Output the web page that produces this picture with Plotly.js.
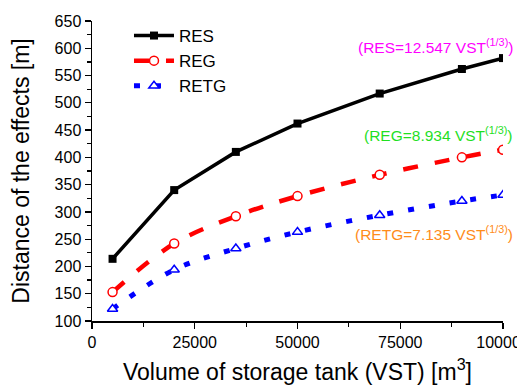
<!DOCTYPE html>
<html><head><meta charset="utf-8">
<script src="https://cdn.plot.ly/plotly-3.0.1.min.js"></script>
<style>html,body{margin:0;padding:0;background:#fff}#c{width:517px;height:385px}</style>
</head><body><div id="c"></div>
<script>
const vst = [5000, 20000, 35000, 50000, 70000, 90000, 100000];
const res = [214, 340, 410, 462, 517, 562, 582];
const reg = [153, 242, 292, 329, 368, 400, 414];
const retg = [122, 194, 233, 263, 294, 320, 331];
const xTicks = [0, 25000, 50000, 75000, 100000];
const xTickText = ['0', '25000', '50000', '75000', '100000'];

const font = 'Liberation Sans, Arial, sans-serif';
const traces = [
  {x: vst, y: res, name: 'RES', mode: 'lines+markers',
   line: {color: '#000', width: 3.5},
   marker: {symbol: 'square', size: 8, color: '#000'}},
  {x: vst, y: reg, name: 'REG', mode: 'lines+markers',
   line: {color: '#ff0000', width: 4.5, dash: '15px,17px', shape: 'spline'},
   marker: {symbol: 'circle', size: 9, color: '#fff', line: {width: 1.5, color: '#ff0000'}}},
  {x: vst, y: retg, name: 'RETG', mode: 'lines+markers',
   line: {color: '#0000ff', width: 5, dash: '6px,15px', shape: 'spline'},
   marker: {symbol: 'triangle-up', size: 9, color: '#fff', line: {width: 1.5, color: '#0000ff'}}}
];
const layout = {
  width: 517, height: 385,
  margin: {l: 92, r: 14, t: 21, b: 64},
  paper_bgcolor: '#fff', plot_bgcolor: '#fff',
  font: {family: font, color: '#000', size: 16},
  showlegend: true,
  legend: {x: 0.09, y: 1.01, xanchor: 'left', yanchor: 'top', bgcolor: 'rgba(0,0,0,0)',
           font: {size: 17}, itemwidth: 40, tracegroupgap: 0},
  xaxis: {range: [0, 100000], tickvals: xTicks, ticktext: xTickText, ticklabeloverflow: 'allow',
          showgrid: false, zeroline: false, showline: true, linecolor: '#000', linewidth: 1.5,
          ticks: 'outside', ticklen: 6, tickcolor: '#000', tickwidth: 1.2,
          minor: {dtick: 12500, ticks: 'outside', ticklen: 4, tickcolor: '#000'},
          tickfont: {size: 16},
          title: {text: 'Volume of storage tank (VST) [m<sup>3</sup>]', font: {size: 23}, standoff: 14}},
  yaxis: {range: [100, 650], dtick: 50, showgrid: false, zeroline: false, showline: true,
          linecolor: '#000', linewidth: 1.5, ticks: 'outside', ticklen: 6, tickcolor: '#000', tickwidth: 1.2,
          minor: {dtick: 25, ticks: 'outside', ticklen: 4, tickcolor: '#000'},
          tickfont: {size: 16},
          title: {text: 'Distance of the effects [m]', font: {size: 23}, standoff: 18}},
  annotations: [
    {xref: 'paper', yref: 'paper', x: 1.03, y: 0.915, xanchor: 'right', yanchor: 'middle', showarrow: false,
     text: '(RES=12.547 VST<sup>(1/3)</sup>)', font: {color: '#ff00ff', size: 15.5}},
    {xref: 'paper', yref: 'paper', x: 1.03, y: 0.625, xanchor: 'right', yanchor: 'middle', showarrow: false,
     text: '(REG=8.934 VST<sup>(1/3)</sup>)', font: {color: '#1fe01f', size: 15.5}},
    {xref: 'paper', yref: 'paper', x: 1.03, y: 0.295, xanchor: 'right', yanchor: 'middle', showarrow: false,
     text: '(RETG=7.135 VST<sup>(1/3)</sup>)', font: {color: '#ff8c1a', size: 15.5}}
  ]
};
Plotly.newPlot('c', traces, layout, {displayModeBar: false, staticPlot: true});
</script></body></html>
